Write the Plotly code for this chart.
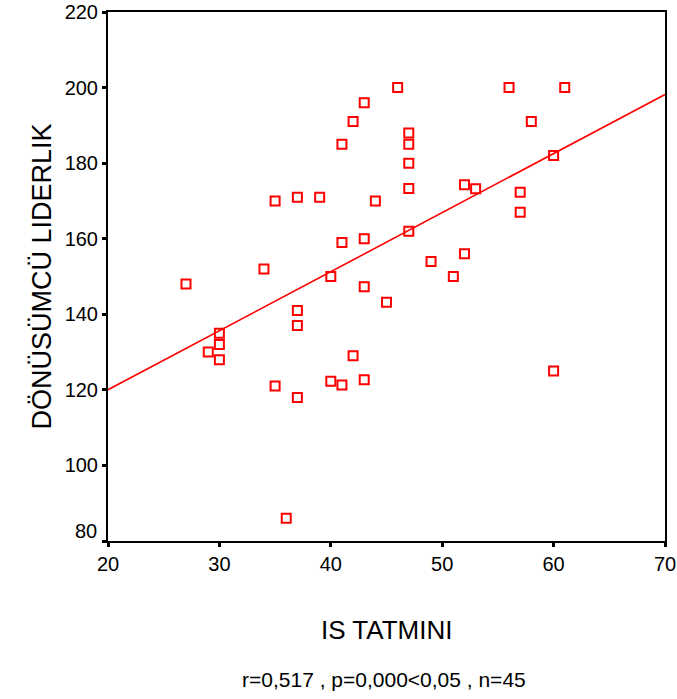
import numpy as np
import plotly.graph_objects as go

# IS TATMINI (x) and DÖNÜSÜMCÜ LIDERLIK (y)
is_tatmini = [27, 29, 30, 30, 30, 34, 35, 35, 37, 37, 37, 37, 36, 39, 40,
              40, 41, 41, 41, 42, 42, 43, 43, 43, 43, 44, 45, 46, 47, 47,
              47, 47, 47, 49, 51, 52, 52, 53, 56, 57, 57, 58, 60, 60, 61]
donusumcu = [148, 130, 135, 132, 128, 152, 170, 121, 171, 141, 137, 118, 86, 171, 150,
             122.3, 185, 159, 121.3, 191, 129, 196, 160, 147.3, 122.7, 170, 143.2, 200, 188, 185,
             180, 173.3, 162, 154, 150, 174.3, 156, 173.2, 200, 172.3, 167, 191, 182, 125, 200]

x_ticks = [20, 30, 40, 50, 60, 70]
y_ticks = [80, 100, 120, 140, 160, 180, 200, 220]
x_title = "IS TATMINI"
y_title = "DÖNÜSÜMCÜ LIDERLIK"
footer = "r=0,517 , p=0,000<0,05 , n=45"

FONT = "Liberation Sans, Arial, sans-serif"

slope, intercept = np.polyfit(is_tatmini, donusumcu, 1)
fit_x = np.array([x_ticks[0], x_ticks[-1]])
fit_y = intercept + slope * fit_x

fig = go.Figure()
fig.add_trace(go.Scatter(x=fit_x, y=fit_y, mode="lines",
                         line=dict(color="#ff0000", width=1.6),
                         hoverinfo="skip", showlegend=False))
fig.add_trace(go.Scatter(x=is_tatmini, y=donusumcu, mode="markers",
                         marker=dict(symbol="square-open", size=9, color="#ff0000",
                                     line=dict(width=2, color="#ff0000")),
                         showlegend=False))

axis_common = dict(showgrid=False, zeroline=False, showline=True, linecolor="black",
                   linewidth=2, mirror=True, ticks="outside", ticklen=4, tickwidth=3,
                   tickcolor="black", automargin=False,
                   tickfont=dict(family=FONT, size=20, color="black"))

# lowest y label is raised (as in the original) -> drawn as an annotation
y_ticktext = ["" if v == y_ticks[0] else str(v) for v in y_ticks]

fig.update_layout(
    width=677, height=699,
    margin=dict(l=108, r=12, t=12, b=157.5, pad=0),
    paper_bgcolor="white", plot_bgcolor="white",
    xaxis=dict(range=[20, 70], tickvals=x_ticks, **axis_common),
    yaxis=dict(range=[80, 220], tickvals=y_ticks, ticktext=y_ticktext, **axis_common),
    annotations=[
        dict(text=str(y_ticks[0]), x=0, y=y_ticks[0], xref="paper", yref="y",
             xanchor="right", yanchor="middle", xshift=-9, yshift=10, showarrow=False,
             font=dict(family=FONT, size=20, color="black")),
        dict(text=x_title, x=0.5, y=0, xref="paper", yref="paper", xanchor="center",
             yanchor="middle", yshift=-89, showarrow=False,
             font=dict(family=FONT, size=26, color="black")),
        dict(text=y_title, x=0, y=0.5, xref="paper", yref="paper", xanchor="center",
             yanchor="middle", xshift=-67, textangle=-90, showarrow=False,
             font=dict(family=FONT, size=27, color="black")),
        dict(text=footer, x=0.5, y=0, xref="paper", yref="paper", xanchor="center",
             yanchor="middle", xshift=-2.5, yshift=-138.5, showarrow=False,
             font=dict(family=FONT, size=21, color="black")),
    ],
)

fig.write_html("out.html")
